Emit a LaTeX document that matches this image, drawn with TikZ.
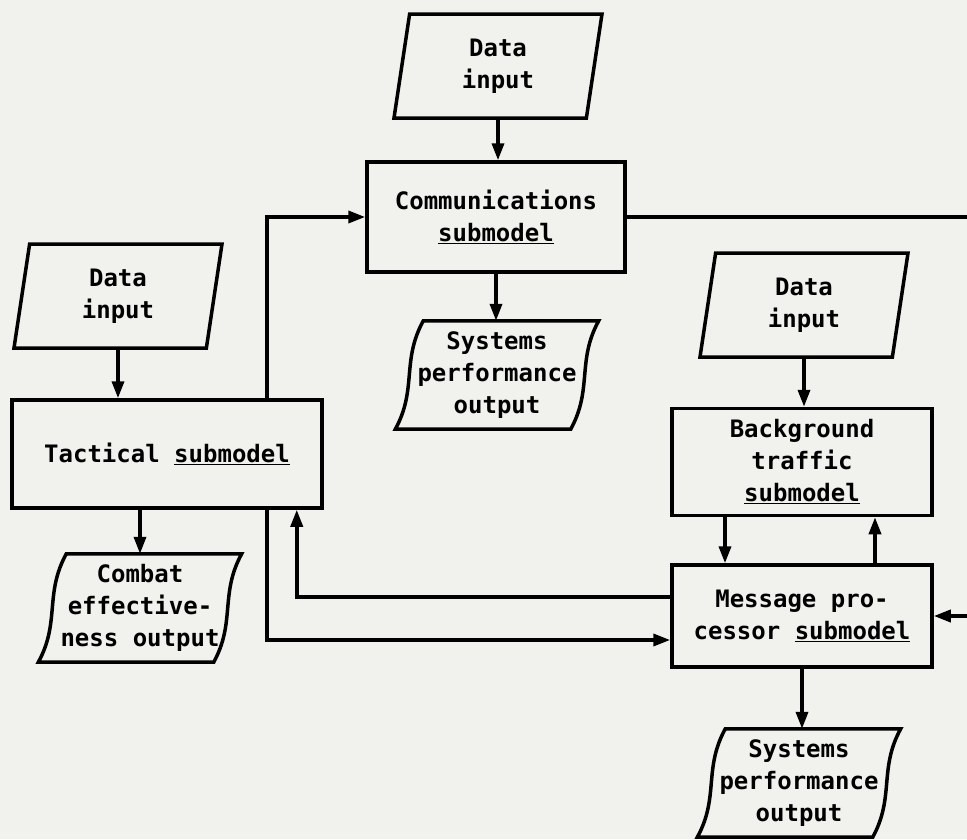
\documentclass[tikz,border=0pt]{standalone}
\usepackage{fontspec}
\setmainfont{DejaVu Sans Mono}
\usetikzlibrary{shapes.geometric,arrows.meta}
\definecolor{paper}{RGB}{241,241,238}
\newcommand{\wavyframe}[1]{%
  \draw[frame] ([xshift=14pt]#1.north west) -- ([xshift=14pt]#1.north east)
    .. controls +(-22,40) and +(22,-40) .. ([xshift=-14pt]#1.south east)
    -- ([xshift=-14pt]#1.south west)
    .. controls +(22,-40) and +(-22,40) .. ([xshift=14pt]#1.north west) -- cycle;}

\begin{document}
\begin{tikzpicture}[x=1pt,y=-1pt,
    every node/.style={font=\fontsize{24}{32}\selectfont\bfseries},
    frame/.style={line width=3.5pt,line join=miter},
    arr/.style={line width=3.5pt,-{Triangle[length=17pt,width=12pt]}},
    box/.style={draw,line width=3.5pt,align=center,inner sep=0pt},
    inbox/.style={trapezium,trapezium left angle=74,trapezium right angle=106,
      trapezium stretches body,draw,line width=3.5pt,align=center,
      minimum width=208pt,minimum height=104pt,inner sep=0pt},
    outbox/.style={align=center,minimum width=175pt,minimum height=108pt,inner sep=0pt}]
  \fill[paper] (0,0) rectangle (967,839);
  \useasboundingbox (0,0) rectangle (967,839);

  % middle column
  \node[inbox] (in1) at (498,66) {Data\\input};
  \node[box,minimum width=258pt,minimum height=110pt] (comm) at (496,217)
    {Communications\\\underline{submodel}};
  \node[outbox] (out1) at (497,375) {Systems\\performance\\output};
  \wavyframe{out1}

  % left column
  \node[inbox] (in2) at (118,296) {Data\\input};
  \node[box,minimum width=310pt,minimum height=108pt] (tact) at (167,454)
    {Tactical \underline{submodel}};
  \node[outbox] (out2) at (140,608) {Combat\\effective-\\ness output};
  \wavyframe{out2}

  % right column
  \node[inbox] (in3) at (804,305) {Data\\input};
  \node[box,minimum width=260pt,minimum height=107pt] (bg) at (802,462)
    {Background\\traffic\\\underline{submodel}};
  \node[box,minimum width=260pt,minimum height=102pt] (msg) at (802,616)
    {Message pro-\\cessor \underline{submodel}};
  \node[outbox] (out3) at (799,783) {Systems\\performance\\output};
  \wavyframe{out3}
  \coordinate (rim) at (967,0);

  % connectors
  \draw[arr] (in1.south) -- (in1.south |- comm.north);
  \draw[arr] (comm.south) -- (comm.south |- out1.north);
  \draw[frame] (comm.east) -- (comm.east -| rim);
  \draw[arr] ([xshift=-57pt]tact.north east) |- (comm.west);
  \draw[arr] (in2.south) -- (in2.south |- tact.north);
  \draw[arr] (out2.north |- tact.south) -- (out2.north);
  \draw[arr] ([xshift=-57pt]tact.south east) |- ([yshift=-24pt]msg.west);
  \draw[arr] ([yshift=19pt]msg.west) -| ([xshift=-27pt]tact.south east);
  \draw[arr] (in3.south) -- (in3.south |- bg.north);
  \draw[arr] ([xshift=-77pt]bg.south) -- ([xshift=-77pt]bg.south |- msg.north);
  \draw[arr] ([xshift=73pt]msg.north) -- ([xshift=73pt]msg.north |- bg.south);
  \draw[arr] (msg.east -| rim) -- (msg.east);
  \draw[arr] (msg.south) -- (msg.south |- out3.north);
\end{tikzpicture}
\end{document}
